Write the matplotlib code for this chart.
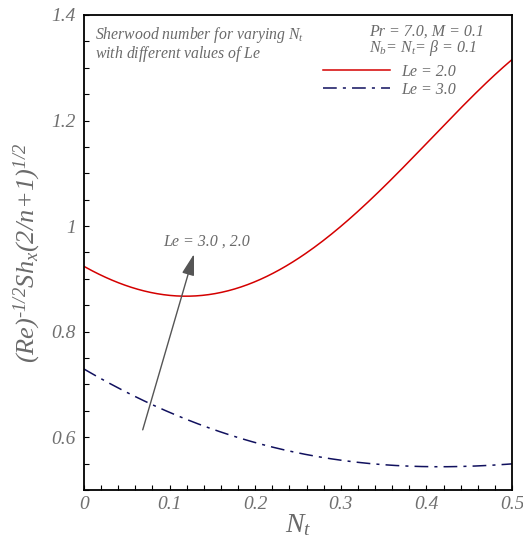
import numpy as np
import matplotlib
matplotlib.use("Agg")
import matplotlib.pyplot as plt
from matplotlib.ticker import MultipleLocator, FuncFormatter

# values
Nt = [0.0, 0.05, 0.1, 0.15, 0.2, 0.25, 0.3, 0.35, 0.4, 0.45, 0.5]
sh_le2 = [0.924, 0.886, 0.869, 0.872, 0.895, 0.938, 0.998, 1.075, 1.158, 1.238, 1.316]
sh_le3 = [0.729, 0.685, 0.648, 0.615, 0.589, 0.570, 0.557, 0.549, 0.544, 0.544, 0.550]
labels = ["Le = 2.0", "Le = 3.0"]

plt.rcParams['font.family'] = ['Liberation Serif', 'DejaVu Serif']
plt.rcParams['font.style'] = 'italic'
plt.rcParams['mathtext.fontset'] = 'custom'
plt.rcParams['mathtext.rm'] = 'Liberation Serif:italic'
plt.rcParams['mathtext.it'] = 'Liberation Serif:italic'
plt.rcParams['mathtext.bf'] = 'Liberation Serif:bold'
gray = '#6a6a6a'

# smooth curves through the read points
xs = np.linspace(0, 0.5, 200)
c2 = np.polyfit(Nt, sh_le2, 4)
c3 = np.polyfit(Nt, sh_le3, 4)

fig = plt.figure(figsize=(5.23, 5.47), dpi=100)
ax = fig.add_axes([0.1606, 0.1042, 0.8184, 0.8684])

ax.plot(xs, np.polyval(c2, xs), color='#d40000', lw=1.1, label=labels[0])
ax.plot(xs, np.polyval(c3, xs), color='#10105e', lw=1.1, ls=(0, (9, 4, 2, 4)), label=labels[1])

ax.set_xlim(0, 0.5)
ax.set_ylim(0.5, 1.4)
ax.xaxis.set_major_locator(MultipleLocator(0.1))
ax.xaxis.set_minor_locator(MultipleLocator(0.02))
ax.set_yticks([0.6, 0.8, 1.0, 1.2, 1.4])
ax.yaxis.set_minor_locator(MultipleLocator(0.05))
ax.xaxis.set_major_formatter(FuncFormatter(lambda v, p: "%g" % round(v, 3)))
ax.yaxis.set_major_formatter(FuncFormatter(lambda v, p: "%g" % round(v, 3)))
ax.tick_params(which='both', direction='in', length=3.5, width=0.8,
               top=False, right=False, labelsize=14, labelcolor='#707070')
ax.tick_params(axis='x', pad=4)
ax.tick_params(axis='y', pad=6)
for s in ax.spines.values():
    s.set_linewidth(1.3)

ax.set_xlabel("$N_t$", fontsize=20, color=gray, labelpad=0)
ax.set_ylabel("$(Re)^{\u20101/2}Sh_x(2/n\\!+\\!1)^{1/2}$", fontsize=19, color=gray, labelpad=6)

ax.text(0.025, 0.978, "Sherwood number for varying $N_t$\nwith different values of $Le$",
        transform=ax.transAxes, fontsize=11.3, color=gray, va='top', linespacing=0.9)
ax.text(0.665, 0.982, "Pr = 7.0, M = 0.1\n$N_b$= $N_t$= \u03b2 = 0.1",
        transform=ax.transAxes, fontsize=11.5, color=gray, va='top', linespacing=0.9)

leg = ax.legend(loc='upper left', bbox_to_anchor=(0.525, 0.928), frameon=False,
                fontsize=11.5, handlelength=4.2, handletextpad=0.7, labelspacing=0.15)
for t in leg.get_texts():
    t.set_color(gray)

ax.annotate("", xy=(0.1285, 0.947), xytext=(0.0686, 0.614),
            arrowprops=dict(arrowstyle='-|>,head_length=1.3,head_width=0.38',
                            color='#555555', lw=1.0, shrinkA=0, shrinkB=0))
ax.text(0.143, 0.97, "Le = 3.0 , 2.0", fontsize=11.5, color=gray, ha='center', va='center')

fig.savefig("out.png", dpi=100)
